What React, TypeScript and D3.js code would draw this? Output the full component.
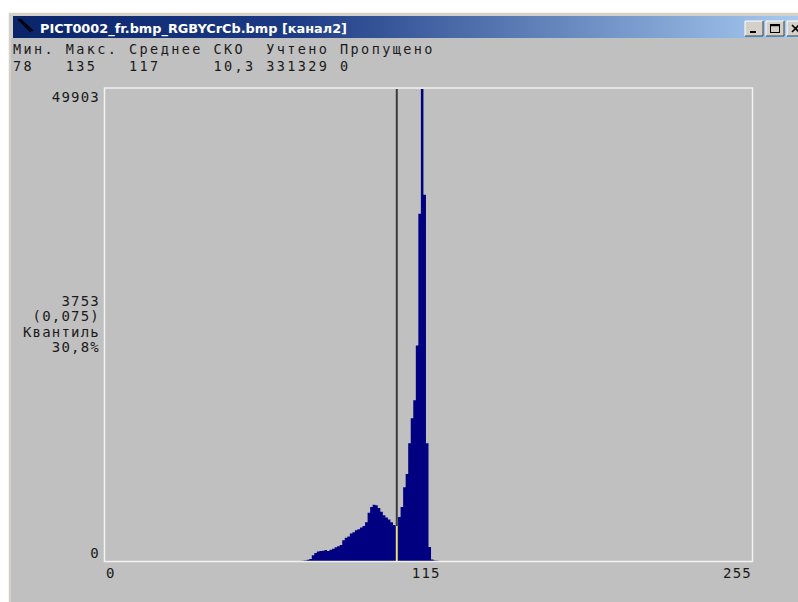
import * as d3 from "d3";

// histogram of channel 2, one count per brightness level
const binValues = [
  78, 79, 80, 81, 82, 83, 84, 85, 86, 87, 88, 89, 90, 91, 92, 93, 94, 95, 96, 97,
  98, 99, 100, 101, 102, 103, 104, 105, 106, 107, 108, 109, 110, 111, 112, 113,
  114, 115, 116, 117, 118, 119, 120, 121, 122, 123, 124, 125, 126, 127, 128, 129,
  130, 131, 132, 133, 134, 135,
];
const binCounts = [
  20, 60, 120, 210, 620, 840, 1000, 1060, 1080, 1160, 1050, 1200, 1300, 1450, 1550,
  1700, 2200, 2450, 2600, 2900, 3050, 3250, 3350, 3550, 3700, 4100, 5100, 5700,
  5950, 5900, 5600, 5200, 4850, 4600, 4400, 4100, 3800, 3700, 4640, 5700, 7800,
  9200, 12450, 15090, 16990, 22790, 36710, 49903, 38720, 12450, 1480, 150, 40, 20,
  10, 5, 5, 3,
];

const windowTitle = "PICT0002_fr.bmp_RGBYCrCb.bmp [канал2]";
const statLabels = ["Мин.", "Макс.", "Среднее", "СКО", "Учтено", "Пропущено"];
const statValues = ["78", "135", "117", "10,3", "331329", "0"];

const xDomain = [0, 255];
const xTickLabels = ["0", "255"];
const cursorValue = 115;
const yMaxValue = 49903;
const quantileLines = ["3753", "(0,075)", "Квантиль", "30,8%"];

const W = 798;
const H = 602;
const MONO = "'DejaVu Sans Mono', 'Liberation Mono', monospace";

export default function App() {
  const plot = { left: 105, right: 752, top: 89, bottom: 561 };
  const x = d3.scaleLinear().domain(xDomain).range([plot.left, plot.right]);
  const y = d3.scaleLinear().domain([0, yMaxValue]).range([plot.bottom, plot.top]);
  const bw = x(1) - x(0);

  // step outline: each bin is centred on its value
  const pts: [number, number][] = [];
  binValues.forEach((v, i) => {
    pts.push([x(v) - bw / 2, y(binCounts[i])]);
    pts.push([x(v) + bw / 2, y(binCounts[i])]);
  });
  const area = d3
    .area<[number, number]>()
    .x((d) => d[0])
    .y0(y(0))
    .y1((d) => d[1]);

  const cursorCount = binCounts[binValues.indexOf(cursorValue)];
  const cx = x(cursorValue);

  // header columns, monospaced; column width = longest of label/value + 1
  const charW = 10.55;
  let col = 0;
  const cols = statLabels.map((l, i) => {
    const c = col;
    col += Math.max(l.length, statValues[i].length) + 1;
    return 13 + c * charW;
  });

  return (
    <svg
      width={W}
      height={H}
      style={{ position: "absolute", left: 0, top: 0, display: "block" }}
    >
      <defs>
        <linearGradient id="tb" x1="0" x2="1" y1="0" y2="0">
          <stop offset="0" stopColor="#0a246a" />
          <stop offset="0.35" stopColor="#1c3a84" />
          <stop offset="1" stopColor="#a6caf0" />
        </linearGradient>
      </defs>
      <rect x={0} y={0} width={W} height={H} fill="#ffffff" />

      {/* window frame */}
      <rect x={8} y={12} width={W - 8} height={H - 12} fill="#d4d0c8" />
      <line x1={8.5} y1={12} x2={8.5} y2={H} stroke="#f4f4f4" />
      <line x1={8} y1={12.5} x2={W} y2={12.5} stroke="#f4f4f4" />
      <rect x={11} y={38} width={W - 11} height={H - 38} fill="#c0c0c0" />

      {/* title bar */}
      <rect x={13} y={16} width={W - 13} height={22} fill="url(#tb)" />
      <path d="M18,19 L31,32 M20,19 L33,31" stroke="#000000" strokeWidth={1.5} />
      <text
        x={40}
        y={33}
        fill="#ffffff"
        fontFamily="'DejaVu Sans', Tahoma, sans-serif"
        fontWeight="bold"
        fontSize={13}
        textLength={307}
        lengthAdjust="spacingAndGlyphs"
      >
        {windowTitle}
      </text>
      {[745, 766, 787].map((bx, i) => (
        <g key={bx}>
          <rect x={bx} y={21} width={18} height={15} fill="#d4d0c8" />
          <path d={`M${bx},36 V21 H${bx + 18}`} fill="none" stroke="#ffffff" />
          <path d={`M${bx + 18},21 V36 H${bx}`} fill="none" stroke="#404040" />
          {i === 0 && (
            <line x1={bx + 5} x2={bx + 11} y1={32} y2={32} stroke="#000" strokeWidth={2} />
          )}
          {i === 1 && (
            <rect x={bx + 4.5} y={24.5} width={9} height={8} fill="none" stroke="#000" strokeWidth={1} />
          )}
          {i === 1 && (
            <line x1={bx + 4.5} x2={bx + 13.5} y1={25.5} y2={25.5} stroke="#000" strokeWidth={1.5} />
          )}
          {i === 2 && (
            <path
              d={`M${bx + 5},25 L${bx + 12},32 M${bx + 12},25 L${bx + 5},32`}
              stroke="#000"
              strokeWidth={1.6}
            />
          )}
        </g>
      ))}

      {/* statistics */}
      <g fontFamily={MONO} fontSize={13.5} letterSpacing={2.4} fill="#1a1a1a">
        {statLabels.map((l, i) => (
          <text key={l} x={cols[i]} y={54}>
            {l}
          </text>
        ))}
        {statValues.map((v, i) => (
          <text key={i} x={cols[i]} y={70.5}>
            {v}
          </text>
        ))}
      </g>

      {/* plot */}
      <path d={area(pts) ?? ""} fill="#000080" />
      <line x1={cx} x2={cx} y1={plot.top} y2={y(cursorCount)} stroke="#3c3c3c" strokeWidth={2} />
      <line x1={cx} x2={cx} y1={y(cursorCount)} y2={y(0)} stroke="#e6e070" strokeWidth={2} />
      <rect
        x={plot.left - 0.5}
        y={plot.top - 1}
        width={plot.right - plot.left + 1}
        height={plot.bottom - plot.top + 1.5}
        fill="none"
        stroke="#f2f2f2"
        strokeWidth={1.5}
      />

      <g fontFamily={MONO} fontSize={14} letterSpacing={1.2} fill="#1a1a1a">
        <text x={100} y={102} textAnchor="end">
          {String(yMaxValue)}
        </text>
        {quantileLines.map((t, i) => (
          <text key={t} x={100} y={306 + i * 15.3} textAnchor="end">
            {t}
          </text>
        ))}
        <text x={100} y={558} textAnchor="end">
          0
        </text>
        <text x={x(xDomain[0]) + 1} y={578}>
          {xTickLabels[0]}
        </text>
        <text x={cx + 15} y={578}>
          {String(cursorValue)}
        </text>
        <text x={x(xDomain[1])} y={578} textAnchor="end">
          {xTickLabels[1]}
        </text>
      </g>
    </svg>
  );
}
